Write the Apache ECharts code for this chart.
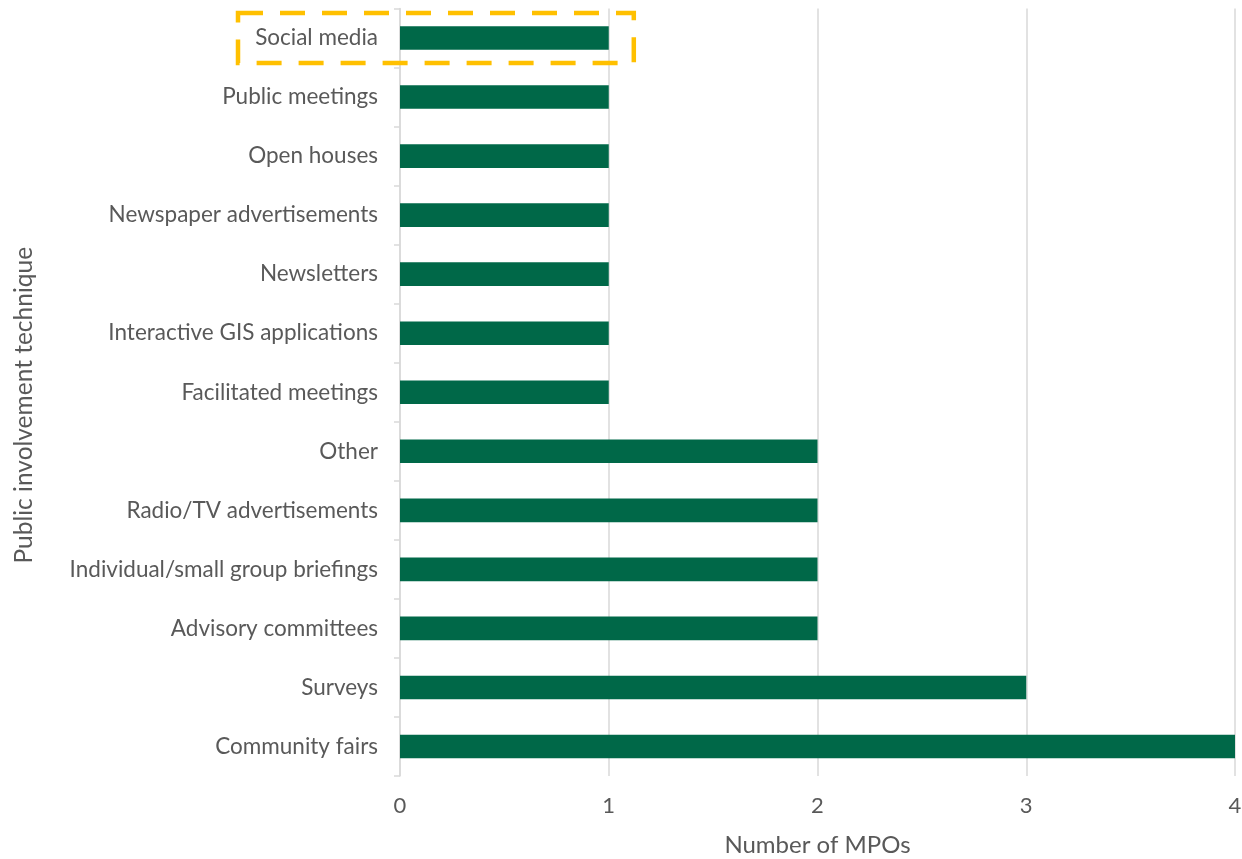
<!DOCTYPE html>
<html><head><meta charset="utf-8">
<script src="https://cdn.jsdelivr.net/npm/echarts@6/dist/echarts.min.js"></script>
<style>html,body{margin:0;padding:0;background:#fff;overflow:hidden;}#c{width:1242px;height:859px;}</style>
</head><body><div id="c"></div>
<script>
const categories = ["Community fairs","Surveys","Advisory committees","Individual/small group briefings","Radio/TV advertisements","Other","Facilitated meetings","Interactive GIS applications","Newsletters","Newspaper advertisements","Open houses","Public meetings","Social media"];
const values = [4,3,2,2,2,2,1,1,1,1,1,1,1];
const xTicks = [0,1,2,3,4];
const highlighted = "Social media";

const font = 'Lato, "Open Sans", sans-serif';
const chart = echarts.init(document.getElementById('c'), null, {renderer:'canvas'});
chart.setOption({
  animation:false,
  grid:{left:400,right:7,top:8.5,bottom:83,containLabel:false,outerBoundsMode:'none'},
  xAxis:{type:'value',min:xTicks[0],max:xTicks[xTicks.length-1],interval:1,
    name:'Number of MPOs',nameLocation:'middle',nameGap:57,
    nameTextStyle:{fontFamily:font,fontSize:24,color:'#595959'},
    axisLine:{show:false},axisTick:{show:false},
    axisLabel:{fontFamily:font,fontSize:22,color:'#595959',margin:19},
    splitLine:{show:true,lineStyle:{color:'#d9d9d9',width:1.5}}},
  yAxis:{type:'category',data:categories,
    name:'Public involvement technique',nameLocation:'middle',nameGap:363,nameRotate:90,
    nameTextStyle:{fontFamily:font,fontSize:24.5,color:'#595959',padding:[0,26,0,0]},
    axisLine:{show:true,lineStyle:{color:'#d9d9d9',width:1.5}},
    axisTick:{show:true,length:6,lineStyle:{color:'#d9d9d9',width:1.5}},
    axisLabel:{fontFamily:font,fontSize:22.5,color:'#595959',margin:22}},
  series:[{type:'bar',data:values,barWidth:'40%',itemStyle:{color:'#006848'}}]
});
const idx = categories.indexOf(highlighted);
const c = chart.convertToPixel({gridIndex:0},[values[idx]*1.12, idx]);
const x0 = 238;
chart.setOption({graphic:[{type:'rect',shape:{x:x0,y:c[1]-25,width:c[0]-x0,height:50},
  style:{fill:null,stroke:'#FFC000',lineWidth:4.5,lineDash:[25,17]},z:100}]});
</script></body></html>
